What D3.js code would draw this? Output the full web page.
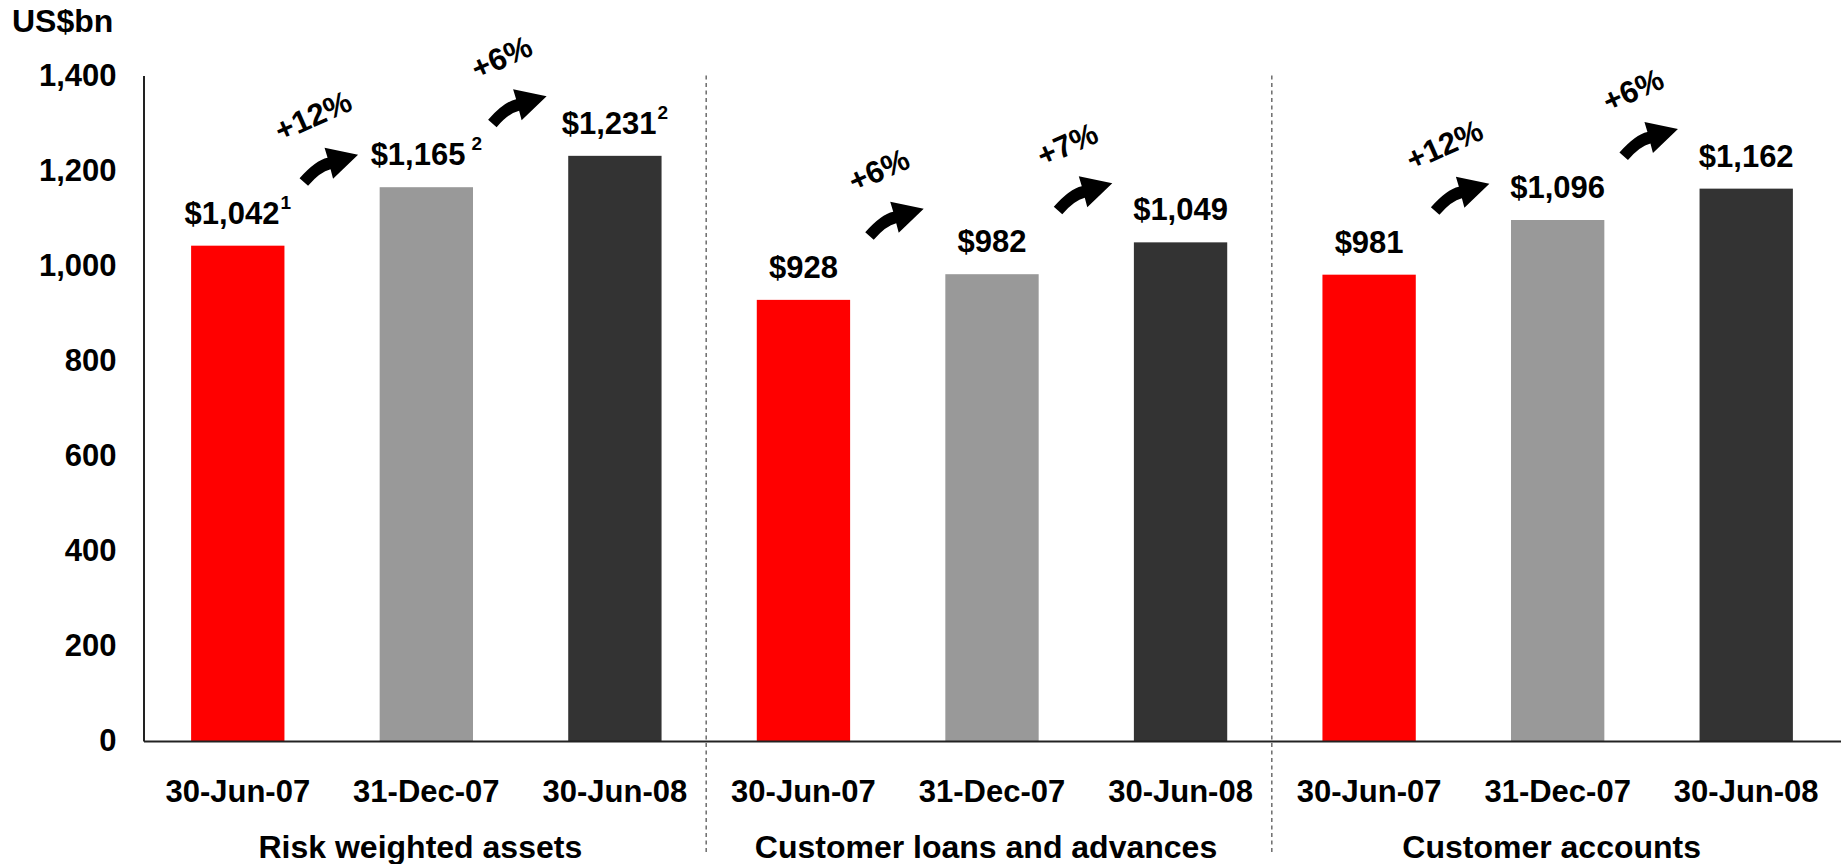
<!DOCTYPE html>
<html>
<head>
<meta charset="utf-8">
<script src="https://cdn.jsdelivr.net/npm/d3@7"></script>
<style>
  html, body { margin: 0; padding: 0; background: #fff; }
  svg { display: block; }
  text { font-family: "Liberation Sans", Arial, Helvetica, sans-serif; font-weight: bold; fill: #000; }
</style>
</head>
<body>
<svg id="chart" width="1845" height="864"></svg>
<script>
// ---- data ----
const periods = ["30-Jun-07", "31-Dec-07", "30-Jun-08"];
const groups = ["Risk weighted assets", "Customer loans and advances", "Customer accounts"];
const riskWeightedAssets = [1042, 1165, 1231];
const customerLoans = [928, 982, 1049];
const customerAccounts = [981, 1096, 1162];
const footnotesRWA = ["1", "2", "2"];
const footnotesLoans = ["", "", ""];
const footnotesAccounts = ["", "", ""];
const growthRWA = ["+12%", "+6%"];
const growthLoans = ["+6%", "+7%"];
const growthAccounts = ["+12%", "+6%"];
const yTicks = [0, 200, 400, 600, 800, 1000, 1200, 1400];
const unitLabel = "US$bn";
const periodColors = ["#ff0000", "#999999", "#333333"];

(function () {
// ---- build rows ----
const seriesValues = [riskWeightedAssets, customerLoans, customerAccounts];
const seriesNotes = [footnotesRWA, footnotesLoans, footnotesAccounts];
const seriesGrowth = [growthRWA, growthLoans, growthAccounts];
const rows = [];
groups.forEach((g, gi) => {
  periods.forEach((p, pi) => {
    rows.push({ key: gi + "|" + pi, group: gi, period: pi, label: p,
                value: seriesValues[gi][pi], note: seriesNotes[gi][pi] });
  });
});

const svg = d3.select("#chart");
const plotLeft = 143.5, plotRight = 1840.5, plotTop = 75.5, plotBottom = 741;

const x = d3.scaleBand().domain(rows.map(r => r.key)).range([plotLeft, plotRight]).paddingInner(0.505).paddingOuter(0.2525);
const y = d3.scaleLinear().domain([0, 1400]).range([plotBottom, plotTop]);

// unit label
svg.append("text").attr("x", 12).attr("y", 31.5).style("font-size", "32px").text(unitLabel);

// group separators (dashed)
const step = x.step();
[3, 6].forEach(i => {
  const sx = plotLeft + i * step - 3;
  svg.append("line").attr("x1", sx).attr("x2", sx).attr("y1", plotTop).attr("y2", 854)
    .attr("stroke", "#555").attr("stroke-width", 1.3).attr("stroke-dasharray", "4,3.5");
});

// bars
svg.append("g").selectAll("rect").data(rows).join("rect")
  .attr("x", d => x(d.key)).attr("width", x.bandwidth())
  .attr("y", d => y(d.value)).attr("height", d => y(0) - y(d.value))
  .attr("fill", d => periodColors[d.period]);

// y axis
const yAxis = svg.append("g").attr("transform", `translate(${plotLeft},0)`)
  .call(d3.axisLeft(y).tickValues(yTicks).tickSize(0).tickSizeOuter(0).tickPadding(27).tickFormat(d3.format(",")));
yAxis.select(".domain").attr("stroke", "#222").attr("stroke-width", 2);
yAxis.selectAll("text").style("font-size", "31px").attr("fill", "#000");

// x axis
const xAxis = svg.append("g").attr("transform", `translate(0,${plotBottom})`)
  .call(d3.axisBottom(x).tickSize(0).tickSizeOuter(0).tickPadding(39).tickFormat(k => rows.find(r => r.key === k).label));
xAxis.select(".domain").attr("stroke", "#222").attr("stroke-width", 2);
xAxis.selectAll("text").style("font-size", "31px").attr("fill", "#000");
svg.selectAll("g").attr("font-family", null).attr("font-size", null);

// group labels
groups.forEach((g, gi) => {
  const cx = plotLeft + (gi * 3 + 1.5) * step;
  svg.append("text").attr("x", cx - 6).attr("y", 858).attr("text-anchor", "middle")
    .style("font-size", "32px").text(g);
});

// value labels with footnote superscripts
const vl = svg.append("g").selectAll("text").data(rows).join("text")
  .attr("x", d => x(d.key) + x.bandwidth() / 2)
  .attr("y", d => y(d.value) - 22)
  .attr("text-anchor", "middle")
  .style("font-size", "31px");
vl.append("tspan").text(d => "$" + d3.format(",")(d.value));
vl.filter(d => d.note).append("tspan").attr("dx", d => d.period === 1 ? 6 : 1).attr("dy", -15)
  .style("font-size", "19px").text(d => d.note);

// growth arrows
const arrowPath = "M-58.5,23.5 Q-42.5,5.5 -30.5,3 L-33.5,-7 L0,0 L-25,24 L-27.5,14.5 Q-38,17 -50,31 Z";
groups.forEach((g, gi) => {
  seriesGrowth[gi].forEach((txt, k) => {
    const prev = rows.find(r => r.group === gi && r.period === k);
    const boundary = x(prev.key) + x.bandwidth() + (step - x.bandwidth()) / 2;
    const tipX = boundary + 26;
    const tipY = y(prev.value) - 91;
    svg.append("path").attr("d", arrowPath).attr("fill", "#000")
      .attr("transform", `translate(${tipX},${tipY})`);
    svg.append("text")
      .attr("transform", `translate(${tipX - 45},${tipY - 39}) rotate(-24)`)
      .attr("text-anchor", "middle").attr("dy", "0.35em")
      .style("font-size", "31px").text(txt);
  });
});
})();
</script>
</body>
</html>
